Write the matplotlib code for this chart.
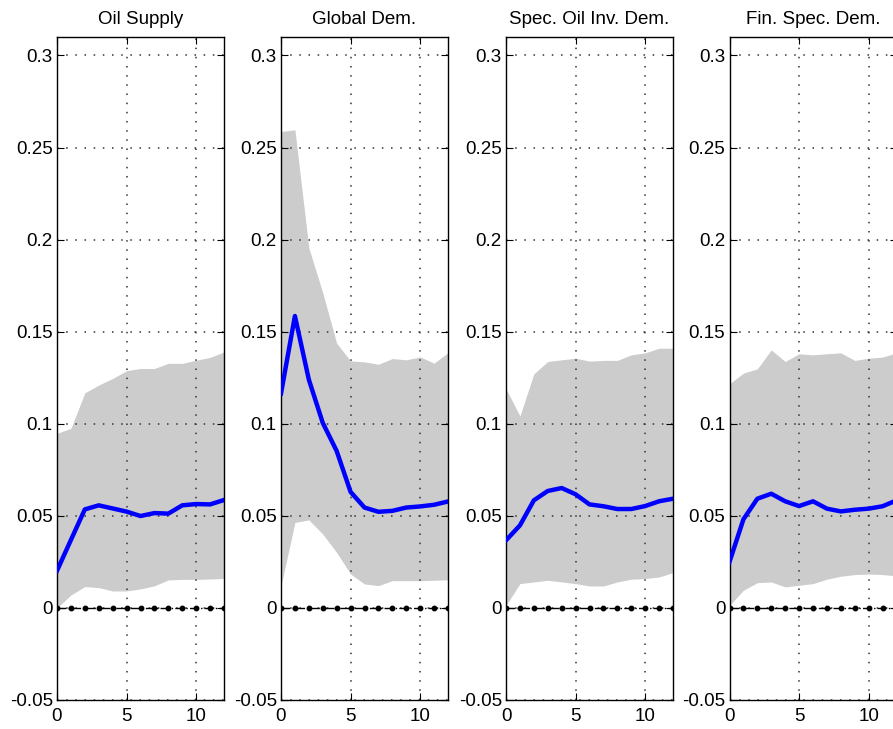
import matplotlib.pyplot as plt
import numpy as np

plt.rcParams['font.family'] = ['Liberation Sans', 'DejaVu Sans']

horizon = np.arange(0, 13)
titles = ['Oil Supply', 'Global Dem.', 'Spec. Oil Inv. Dem.', 'Fin. Spec. Dem.']

# median responses
oil_supply = [0.0202, 0.0369, 0.0535, 0.0557, 0.0540, 0.0523, 0.0499, 0.0515, 0.0512, 0.0557, 0.0564, 0.0562, 0.0586]
global_dem = [0.1164, 0.1585, 0.1240, 0.1005, 0.0852, 0.0630, 0.0545, 0.0522, 0.0527, 0.0545, 0.0551, 0.0560, 0.0578]
spec_inv = [0.0367, 0.0448, 0.0584, 0.0635, 0.0651, 0.0617, 0.0562, 0.0552, 0.0537, 0.0537, 0.0553, 0.0579, 0.0593]
fin_spec = [0.0250, 0.0481, 0.0593, 0.0620, 0.0579, 0.0553, 0.0579, 0.0539, 0.0524, 0.0533, 0.0539, 0.0552, 0.0584]

# upper bands
oil_supply_hi = [0.0948, 0.0975, 0.1168, 0.1210, 0.1246, 0.1288, 0.1300, 0.1300, 0.1328, 0.1328, 0.1345, 0.1360, 0.1390]
global_dem_hi = [0.2587, 0.2596, 0.1955, 0.1711, 0.1437, 0.1341, 0.1336, 0.1323, 0.1354, 0.1347, 0.1363, 0.1329, 0.1386]
spec_inv_hi = [0.1190, 0.1042, 0.1271, 0.1338, 0.1347, 0.1356, 0.1340, 0.1344, 0.1344, 0.1374, 0.1385, 0.1410, 0.1410]
fin_spec_hi = [0.1217, 0.1275, 0.1298, 0.1401, 0.1338, 0.1380, 0.1374, 0.1380, 0.1385, 0.1344, 0.1356, 0.1362, 0.1385]

# lower bands
oil_supply_lo = [0.0000, 0.0070, 0.0116, 0.0110, 0.0092, 0.0092, 0.0103, 0.0120, 0.0152, 0.0155, 0.0155, 0.0157, 0.0160]
global_dem_lo = [0.0121, 0.0464, 0.0478, 0.0401, 0.0301, 0.0184, 0.0130, 0.0121, 0.0148, 0.0148, 0.0148, 0.0150, 0.0153]
spec_inv_lo = [0.0014, 0.0132, 0.0141, 0.0150, 0.0141, 0.0132, 0.0119, 0.0119, 0.0141, 0.0156, 0.0159, 0.0168, 0.0192]
fin_spec_lo = [0.0014, 0.0096, 0.0137, 0.0141, 0.0114, 0.0123, 0.0132, 0.0156, 0.0172, 0.0181, 0.0184, 0.0181, 0.0174]

medians = [oil_supply, global_dem, spec_inv, fin_spec]
uppers = [oil_supply_hi, global_dem_hi, spec_inv_hi, fin_spec_hi]
lowers = [oil_supply_lo, global_dem_lo, spec_inv_lo, fin_spec_lo]

W, H = 893, 729
fig = plt.figure(figsize=(W / 100, H / 100), dpi=100)

lefts = [57, 281, 506, 729.5]
for i in range(4):
    # last panel runs past the right edge, as in the source image
    ax = fig.add_axes([lefts[i] / W, 29 / H, 167 / W, 663 / H])
    ax.fill_between(horizon, lowers[i], uppers[i], color='#cccccc', linewidth=0, zorder=1)
    ax.plot(horizon, medians[i], color='#0000ff', linewidth=3.2, zorder=3)
    ax.plot(horizon, np.zeros(len(horizon)), color='black', linestyle='-.', linewidth=1,
            marker='o', markersize=3.2, zorder=3)

    ax.set_xlim(0, 12)
    ax.set_ylim(-0.05, 0.31)
    ax.set_xticks([0, 5, 10])
    ax.set_yticks([-0.05, 0, 0.05, 0.1, 0.15, 0.2, 0.25, 0.3])
    ax.set_yticklabels(['-0.05', '0', '0.05', '0.1', '0.15', '0.2', '0.25', '0.3'])
    ax.set_axisbelow('line')
    ax.grid(True, color='#333333', linestyle=(0, (1, 5)), linewidth=1.1)
    ax.tick_params(direction='in', top=True, right=True, length=5, labelsize=13.5, pad=3)
    ax.tick_params(axis='x', pad=6)
    for s in ax.spines.values():
        s.set_linewidth(1)
    ax.set_title(titles[i], fontsize=13.5, pad=9)

fig.savefig('out.png', dpi=100)
